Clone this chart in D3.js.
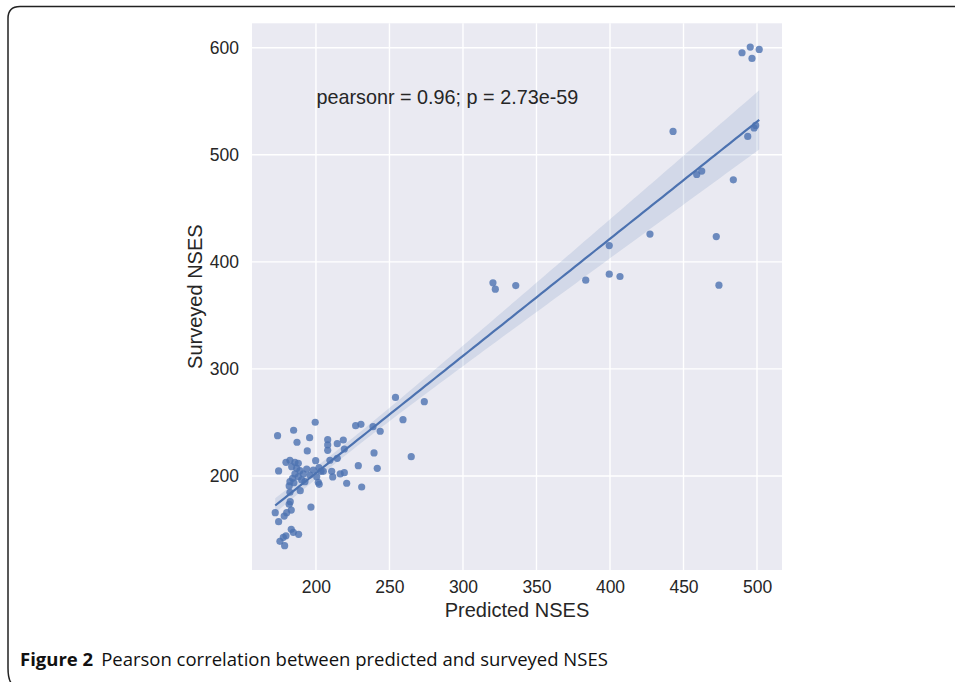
<!DOCTYPE html>
<html><head><meta charset="utf-8">
<script src="https://cdn.jsdelivr.net/npm/d3@7"></script>
<style>
body{margin:0;background:#fff;}
svg{display:block;}
.sans{font-family:"Liberation Sans","Arimo",Arial,Helvetica,sans-serif;}
.cap{font-family:"Open Sans","Noto Sans",sans-serif;}
</style>
</head><body>
<svg id="chart" width="955" height="682"></svg>
<script>
// Data
const predicted = [173.9,184.8,199.5,187.1,195.7,194.1,208.0,208.0,208.0,214.5,218.6,219.3,227.0,230.6,238.8,243.7,259.2,273.7,254.1,239.5,264.8,228.8,241.7,214.5,209.5,199.8,210.7,211.4,216.5,219.3,220.9,231.1,202.0,203.4,205.0,200.5,201.6,202.2,193.7,174.6,179.6,182.3,185.7,188.0,189.3,196.6,182.3,182.5,181.8,183.2,172.3,178.4,180.1,174.6,183.2,184.6,188.2,179.6,177.8,175.5,178.7,183.5,186.9,189.1,191.4,185.7,184.1,188.0,190.3,182.3,192.5,195.9,198.2,181.8,185.0,442.9,459.0,462.4,483.9,493.7,498.0,499.1,399.5,427.2,472.3,383.5,399.5,406.8,474.1,489.8,495.4,501.5,496.6,320.4,322.0,335.9];
const surveyed  = [237.7,242.7,250.2,231.5,235.8,223.4,233.9,229.0,224.0,230.2,233.6,225.2,247.0,248.3,246.1,241.8,252.6,269.4,273.4,221.5,218.0,209.6,207.2,216.5,214.7,214.3,204.4,199.1,201.9,203.1,193.2,189.7,207.8,204.4,204.4,199.3,194.1,192.2,206.5,204.7,212.8,214.7,212.8,211.9,186.3,171.0,184.8,176.0,173.6,168.2,165.7,162.6,165.7,157.3,150.2,147.4,145.5,144.2,142.7,139.0,134.9,208.7,207.2,205.0,201.9,201.9,197.8,199.3,196.3,194.7,194.7,200.9,205.6,190.7,193.7,521.8,481.6,484.8,476.6,517.1,525.0,527.4,415.2,425.9,423.6,382.9,388.5,386.3,378.2,595.3,600.6,598.4,590.0,380.4,374.5,377.8];
const xTicks = [200,250,300,350,400,450,500];
const yTicks = [200,300,400,500,600];
const xLabel = "Predicted NSES";
const yLabel = "Surveyed NSES";
const annotation = "pearsonr = 0.96; p = 2.73e-59";
const captionBold = "Figure 2";
const captionText = "Pearson correlation between predicted and surveyed NSES";

const svg = d3.select("#chart");
const plot = {left:252, right:782, top:23.3, bottom:570};
const blue = "#4C72B0";

// frame
svg.append("path")
  .attr("d", `M 960 6.5 L 20 6.5 Q 8 6.5 8 18.5 L 8 668 Q 8 680 12 684`)
  .attr("fill","none").attr("stroke","#222").attr("stroke-width",1.5);

const x = d3.scaleLinear().domain([156.5, 517]).range([plot.left, plot.right]);
const y = d3.scaleLinear().domain([112.2, 622.8]).range([plot.bottom, plot.top]);

// background
svg.append("rect").attr("x",plot.left).attr("y",plot.top)
  .attr("width",plot.right-plot.left).attr("height",plot.bottom-plot.top)
  .attr("fill","#EAEAF2");

// grid
const g = svg.append("g");
g.selectAll("line.vx").data(xTicks).join("line")
  .attr("x1",d=>x(d)).attr("x2",d=>x(d)).attr("y1",plot.top).attr("y2",plot.bottom)
  .attr("stroke","#fff").attr("stroke-width",1.4);
g.selectAll("line.hy").data(yTicks).join("line")
  .attr("y1",d=>y(d)).attr("y2",d=>y(d)).attr("x1",plot.left).attr("x2",plot.right)
  .attr("stroke","#fff").attr("stroke-width",1.4);

// axes (labels only)
const xAxis = d3.axisBottom(x).tickValues(xTicks).tickSize(0).tickPadding(11);
const yAxis = d3.axisLeft(y).tickValues(yTicks).tickSize(0).tickPadding(13);
const gx = svg.append("g").attr("transform",`translate(0,${plot.bottom})`).call(xAxis);
const gy = svg.append("g").attr("transform",`translate(${plot.left},0)`).call(yAxis);
[gx,gy].forEach(a=>{
  a.attr("font-family",null).attr("font-size",null);
  a.select(".domain").remove();
  a.selectAll("text").attr("class","sans").attr("font-size",17.5).attr("fill","#262626");
});

// regression with robust (sandwich) confidence band
const n = predicted.length;
const mx = d3.mean(predicted), my = d3.mean(surveyed);
let sxx=0, sxy=0;
for (let i=0;i<n;i++){ sxx+=(predicted[i]-mx)**2; sxy+=(predicted[i]-mx)*(surveyed[i]-my); }
const b1 = sxy/sxx, b0 = my - b1*mx;
let s0=n, s1=d3.sum(predicted), s2=d3.sum(predicted,v=>v*v);
const det = s0*s2 - s1*s1;
const A = [[s2/det, -s1/det],[-s1/det, s0/det]];
let M = [[0,0],[0,0]];
for (let i=0;i<n;i++){
  const e = surveyed[i] - (b0 + b1*predicted[i]);
  const xi = [1, predicted[i]];
  for (let a=0;a<2;a++) for (let b=0;b<2;b++) M[a][b] += e*e*xi[a]*xi[b];
}
const mul = (P,Q)=>[[P[0][0]*Q[0][0]+P[0][1]*Q[1][0], P[0][0]*Q[0][1]+P[0][1]*Q[1][1]],
                    [P[1][0]*Q[0][0]+P[1][1]*Q[1][0], P[1][0]*Q[0][1]+P[1][1]*Q[1][1]]];
const V = mul(mul(A,M),A);
const xmin = d3.min(predicted), xmax = d3.max(predicted);
const grid = d3.range(0,101).map(i=>xmin + (xmax-xmin)*i/100);
const band = grid.map(v=>{
  const yh = b0 + b1*v;
  const se = Math.sqrt(V[0][0] + 2*v*V[0][1] + v*v*V[1][1]);
  return {x:v, y:yh, lo:yh-1.96*se, hi:yh+1.96*se};
});
svg.append("path").datum(band)
  .attr("d", d3.area().x(d=>x(d.x)).y0(d=>y(d.lo)).y1(d=>y(d.hi)))
  .attr("fill", blue).attr("fill-opacity",0.15);

// points
svg.append("g").selectAll("circle").data(predicted.map((p,i)=>[p,surveyed[i]])).join("circle")
  .attr("cx",d=>x(d[0])).attr("cy",d=>y(d[1])).attr("r",3.6)
  .attr("fill",blue).attr("fill-opacity",0.8);

// line
svg.append("path").datum(band)
  .attr("d", d3.line().x(d=>x(d.x)).y(d=>y(d.y)))
  .attr("fill","none").attr("stroke",blue).attr("stroke-width",2.2);

// annotation
svg.append("text").attr("class","sans").attr("x",316.5).attr("y",103.5)
  .attr("font-size",19.8).attr("fill","#262626")
  .text(annotation);

// axis labels
svg.append("text").attr("class","sans").attr("x",(plot.left+plot.right)/2).attr("y",616.5)
  .attr("text-anchor","middle").attr("font-size",20).attr("fill","#262626")
  .text(xLabel);
svg.append("text").attr("class","sans").attr("transform",`translate(202,${(plot.top+plot.bottom)/2}) rotate(-90)`)
  .attr("text-anchor","middle").attr("font-size",20).attr("fill","#262626")
  .text(yLabel);

// caption
const cap = svg.append("text").attr("class","cap").attr("x",20).attr("y",666.5)
  .attr("font-size",18.5).attr("fill","#111");
cap.append("tspan").attr("font-weight","bold").text(captionBold);
cap.append("tspan").attr("dx",8).text(captionText);
const bb = cap.node().getBBox();
const target = 608-20;
cap.attr("transform",`translate(20,0) scale(${target/bb.width},1) translate(-20,0)`);
</script>
</body></html>
